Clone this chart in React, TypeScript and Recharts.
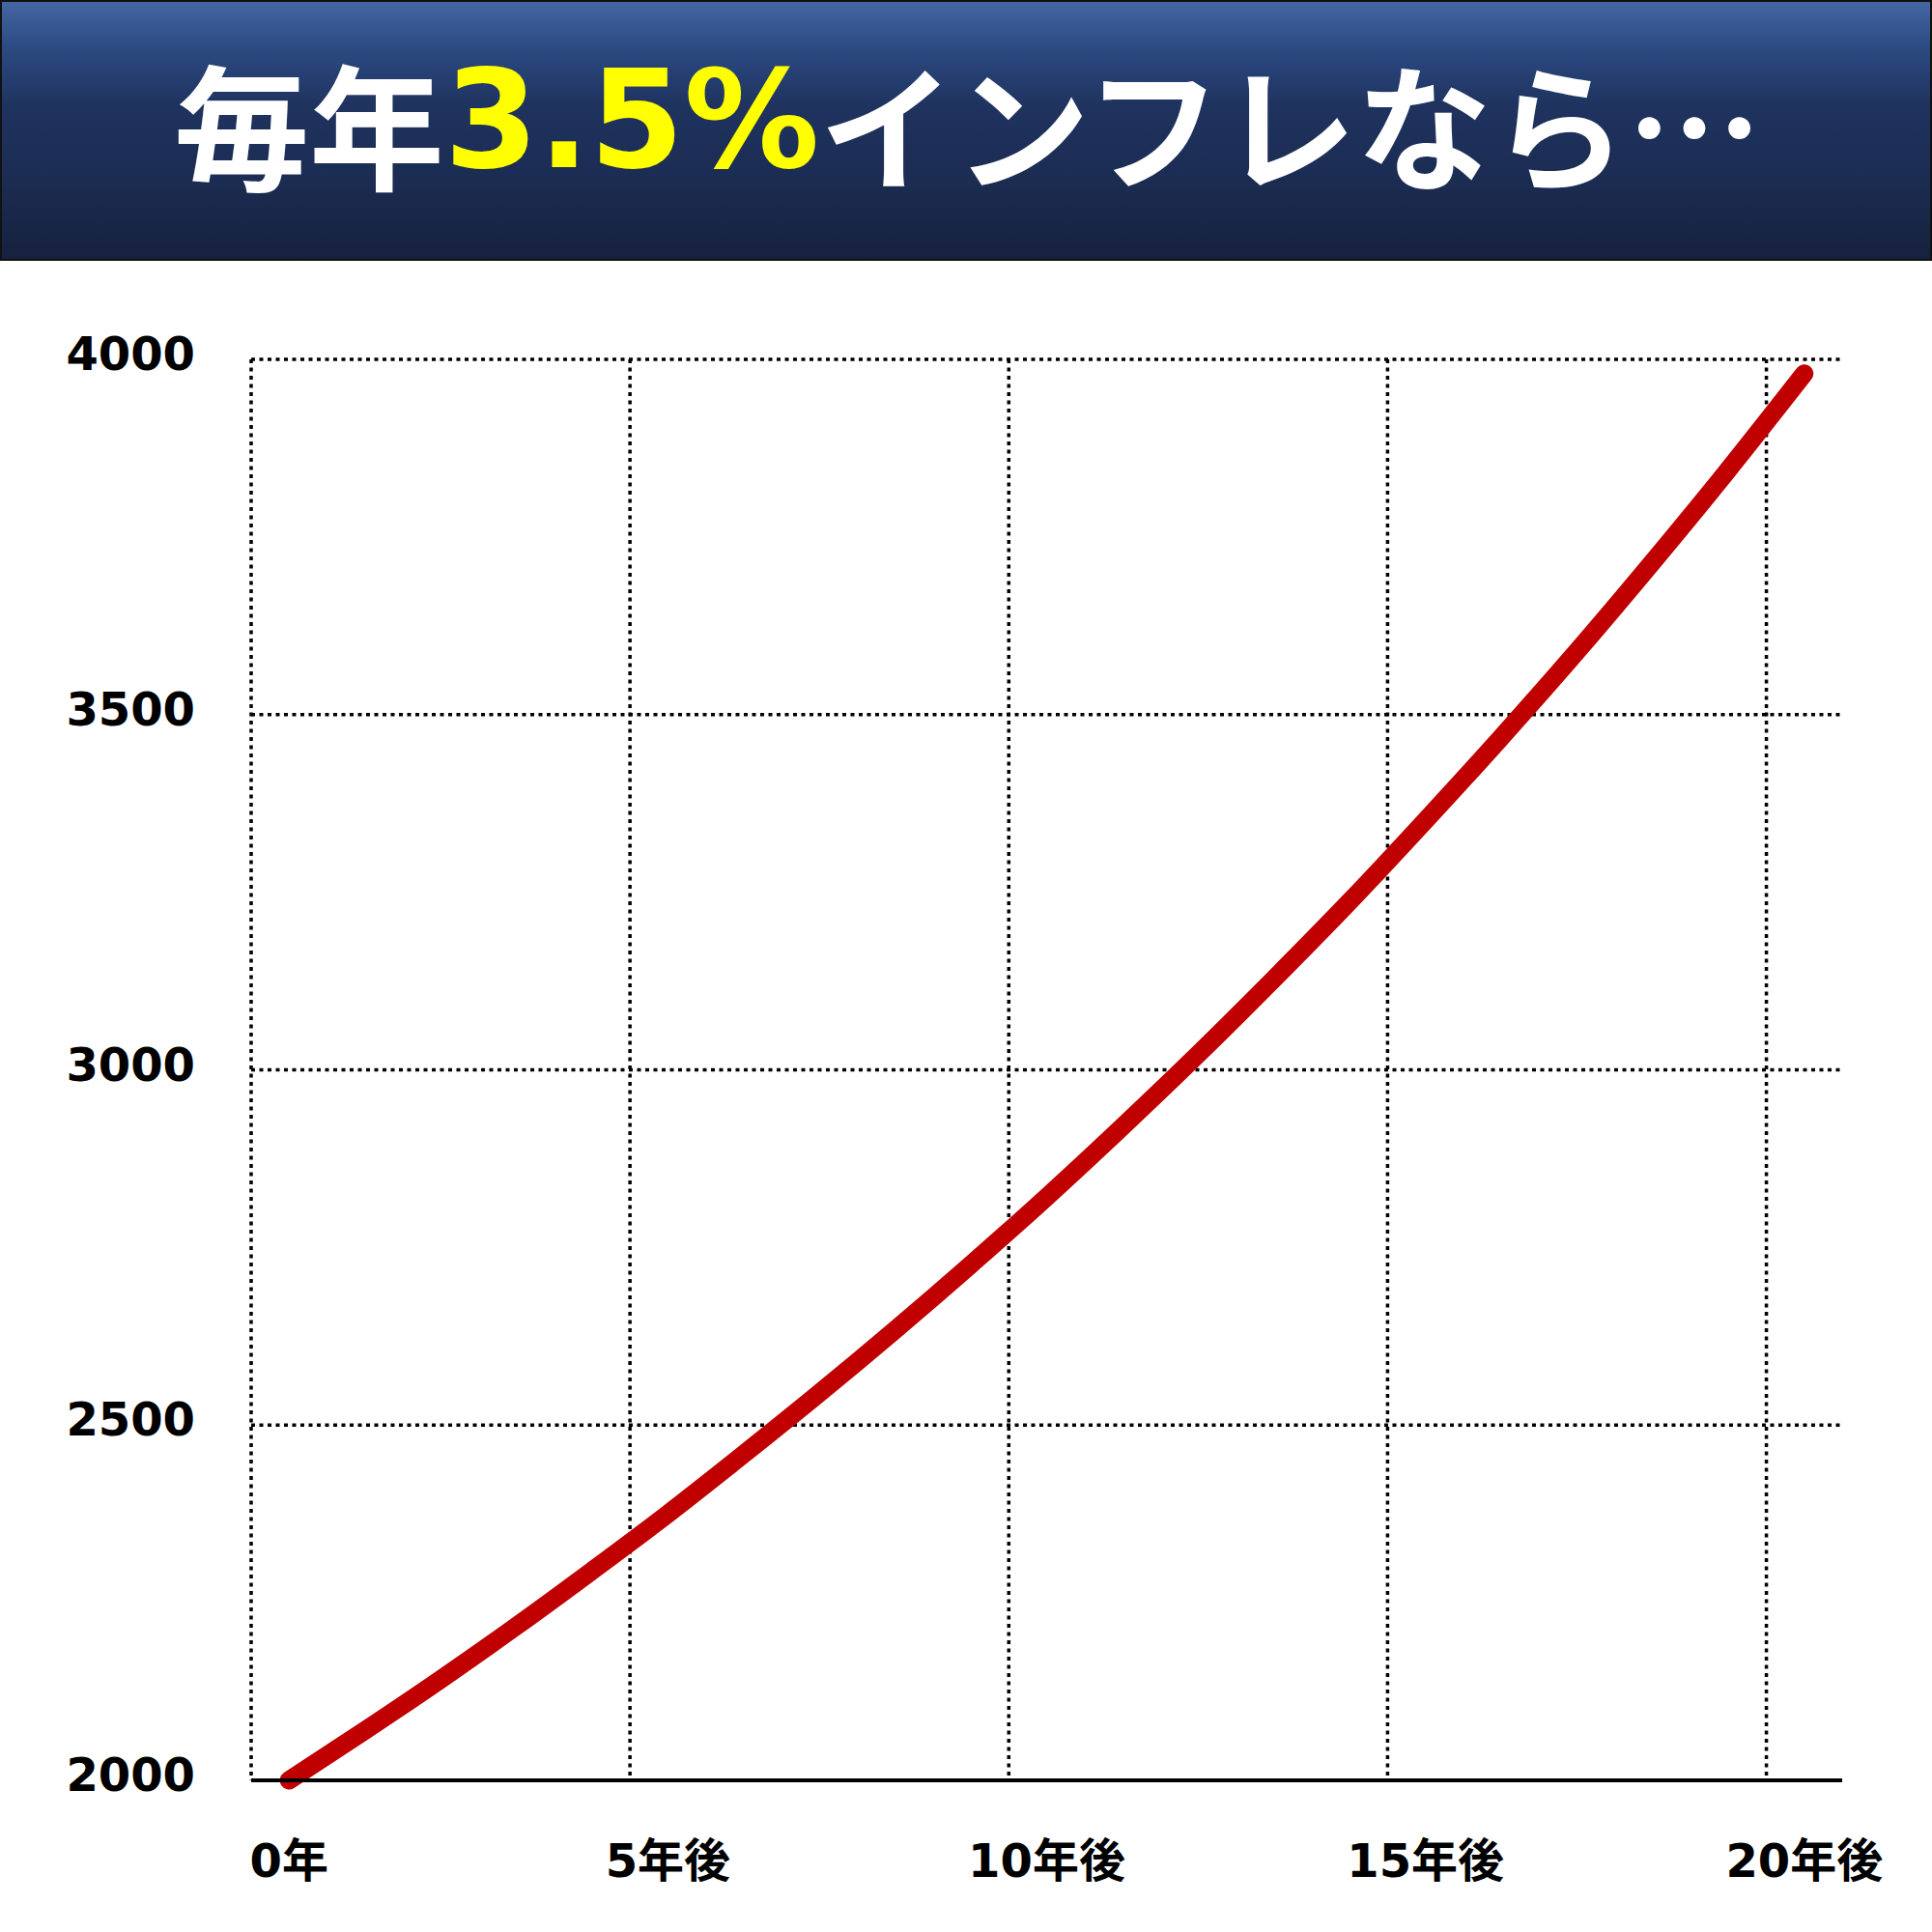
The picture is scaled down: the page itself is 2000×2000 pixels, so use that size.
import React from 'react';
import { LineChart, Line, XAxis, YAxis, CartesianGrid } from 'recharts';

const years = [0, 1, 2, 3, 4, 5, 6, 7, 8, 9, 10, 11, 12, 13, 14, 15, 16, 17, 18, 19, 20];
const prices = [2000, 2070, 2142, 2217, 2295, 2375, 2459, 2545, 2634, 2726, 2821, 2920, 3022, 3128, 3237, 3351, 3468, 3589, 3715, 3845, 3980];
const xTickYears = [0, 5, 10, 15, 20];
const xTickLabels = ['0年', '5年後', '10年後', '15年後', '20年後'];
const gridBoundaries = [-0.5, 4.5, 9.5, 14.5, 19.5];
const yTicks = [2000, 2500, 3000, 3500, 4000];

const data = years.map((y, i) => ({ year: y, price: prices[i] }));

const FONT = '"DejaVu Sans", "Noto Sans CJK JP", sans-serif';

const XTick = (props: any) => {
  const { x, y, payload } = props;
  const idx = xTickYears.indexOf(payload.value);
  return (
    <text x={x} y={y + 100} textAnchor="middle" fill="#000" fontSize={48} fontWeight={700} fontFamily={FONT}>
      {idx >= 0 ? xTickLabels[idx] : ''}
    </text>
  );
};

const YTick = (props: any) => {
  const { x, y, payload } = props;
  return (
    <text x={x} y={y + 11} textAnchor="end" fill="#000" fontSize={48} fontWeight={700} fontFamily={FONT}>
      {payload.value}
    </text>
  );
};

export default function App() {
  return (
    <div style={{ position: 'absolute', left: 0, top: 0, width: 2000, height: 2000, background: '#fff', overflow: 'hidden' }}>
      <div
        style={{
          position: 'absolute',
          left: 0,
          top: 0,
          width: 2000,
          height: 270,
          boxSizing: 'border-box',
          border: '2px solid #111',
          background: 'linear-gradient(to bottom, #4466a2 0%, #2c4a82 18%, #1f335f 40%, #1b2c52 70%, #16213d 100%)',
          zIndex: 2,
        }}
      >
        <div
          style={{
            position: 'absolute',
            left: 0,
            top: 0,
            width: 2000,
            height: 246,
            display: 'flex',
            alignItems: 'center',
            justifyContent: 'center',
            fontFamily: FONT,
            fontWeight: 700,
            fontSize: 140,
            color: '#fff',
            whiteSpace: 'nowrap',
            lineHeight: 1,
          }}
        >
          <span style={{ fontFamily: '"Noto Sans CJK JP"' }}>毎年</span>
          <span style={{ color: '#ffff00' }}>3.5%</span>
          <span style={{ fontFamily: '"Noto Sans CJK JP"' }}>インフレなら…</span>
        </div>
      </div>
      <div style={{ position: 'absolute', left: 0, top: 0 }}>
        <LineChart width={2000} height={2000} data={data} margin={{ top: 372, right: 93, left: 0, bottom: 0 }}>
          <CartesianGrid
            xAxisId="grid"
            stroke="#000"
            strokeWidth={3.5}
            strokeDasharray="4 4.5"
            syncWithTicks
          />
          <XAxis
            dataKey="year"
            type="number"
            domain={[-0.5, 20.5]}
            ticks={xTickYears}
            interval={0}
            tick={<XTick />}
            tickLine={false}
            tickSize={0}
            tickMargin={0}
            axisLine={{ stroke: '#000', strokeWidth: 4 }}
            height={157}
          />
          <XAxis
            xAxisId="grid"
            dataKey="year"
            type="number"
            domain={[-0.5, 20.5]}
            ticks={gridBoundaries}
            interval={0}
            hide
          />
          <YAxis
            type="number"
            domain={[2000, 4000]}
            ticks={yTicks}
            interval={0}
            width={260}
            tick={<YTick />}
            tickLine={false}
            tickSize={0}
            tickMargin={58}
            axisLine={false}
          />
          <Line
            dataKey="price"
            type="monotone"
            stroke="#c00000"
            strokeWidth={19}
            strokeLinecap="round"
            strokeLinejoin="round"
            dot={false}
            activeDot={false}
            isAnimationActive={false}
          />
        </LineChart>
      </div>
    </div>
  );
}
